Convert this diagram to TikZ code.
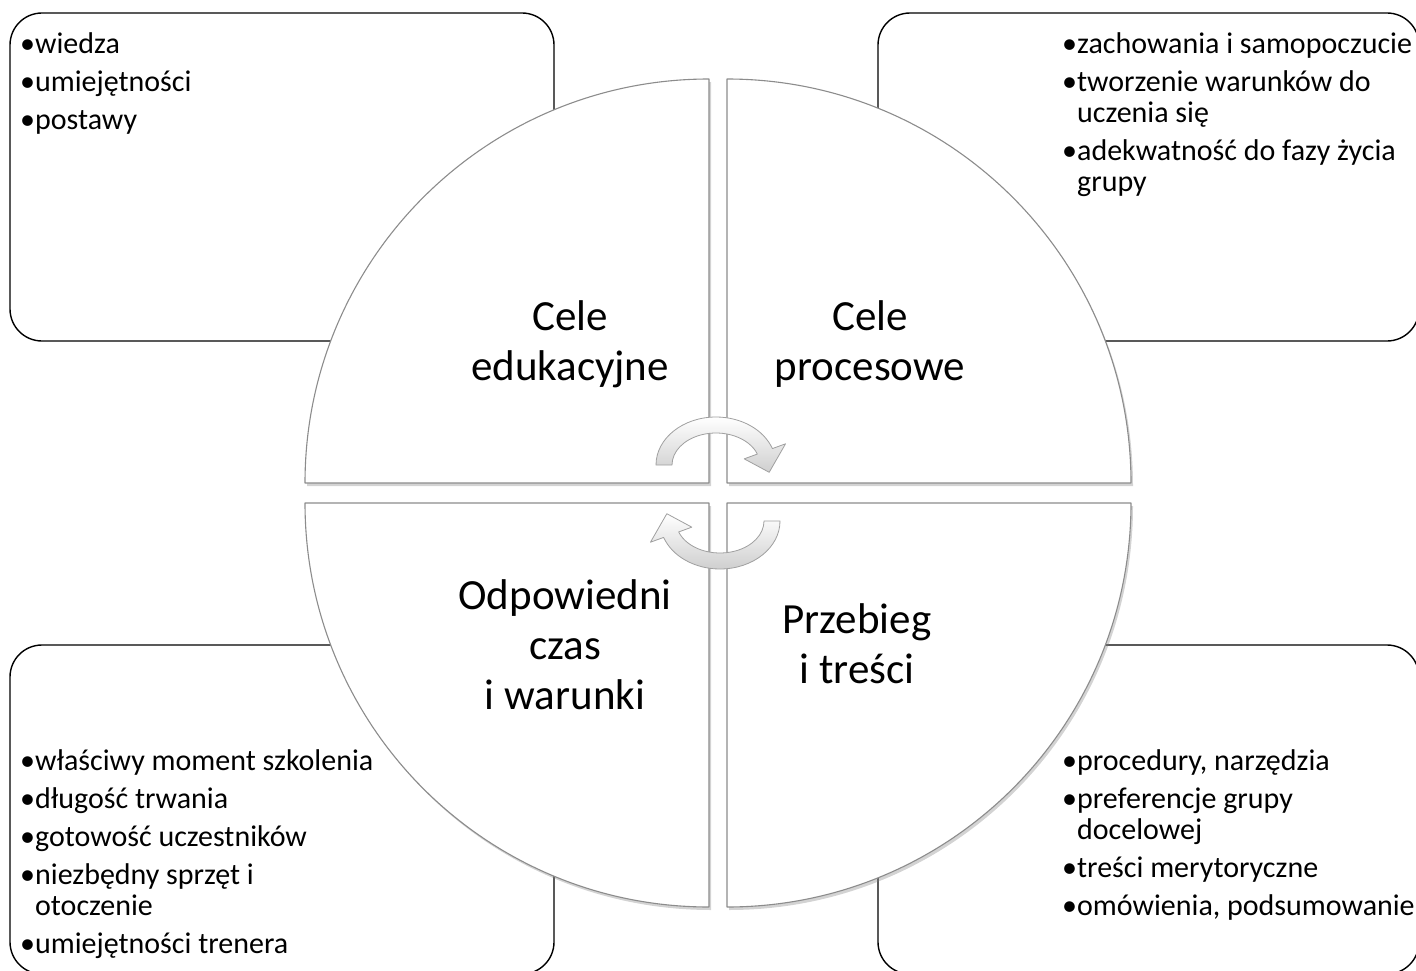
\documentclass[tikz,border=0pt]{standalone}
\usepackage{fontspec}
\setmainfont{Carlito}
\usepackage{tikz}
\usetikzlibrary{calc,positioning,shadows}
\definecolor{obrys}{HTML}{8C8C8C}
\definecolor{cien}{HTML}{808080}
\definecolor{strzalka}{HTML}{CFCFCF}
\definecolor{strzalkaobrys}{HTML}{A0A0A0}

\tikzset{
  ramka/.style={draw=black,line width=1.4pt,rounded corners=32pt},
  cwiartka/.style={fill=white,draw=obrys,line width=1.1pt,
    drop shadow={shadow xshift=2pt,shadow yshift=-3pt,opacity=.35,fill=cien}},
  lista/.style={anchor=north west,inner sep=0pt,text width=400pt,align=flush left,
    font=\fontsize{30}{31}\selectfont\setlength{\parskip}{7pt}},
  etykieta/.style={align=center,inner sep=0pt,font=\fontsize{43}{50}\selectfont},
  obrot/.style={top color=white,bottom color=strzalka,draw=strzalkaobrys,line width=0.8pt}
}
\newcommand{\pkt}[1]{\par\setbox0\hbox{\textbullet}\hangindent=\wd0\hangafter=1
  \noindent\strut\textbullet#1\par}

\begin{document}
\begin{tikzpicture}[x=1pt,y=-1pt,line join=round]
  \useasboundingbox (0,0) rectangle (1416,971);
  % ramki z listami
  \draw[ramka] (10,13) rectangle (554,341);
  \draw[ramka] (878,13) rectangle (1419,341);
  \draw[ramka] (10,645) rectangle (554,974);
  \draw[ramka] (878,645) rectangle (1419,974);
  \node[lista] (wiedza) at (20,15.5) {\pkt{wiedza}\pkt{umiejętności}\pkt{postawy}};
  \node[lista] (proces) at (1062,15.5) {\pkt{zachowania i samopoczucie}%
    \pkt{tworzenie warunków do\newline uczenia się}%
    \pkt{adekwatność do fazy życia\newline grupy}};
  \node[lista] (warunki) at (20,732) {\pkt{właściwy moment szkolenia}%
    \pkt{długość trwania}\pkt{gotowość uczestników}%
    \pkt{niezbędny sprzęt i\newline otoczenie}\pkt{umiejętności trenera}};
  \node[lista] (tresci) at (1062,732) {\pkt{procedury, narzędzia}%
    \pkt{preferencje grupy\newline docelowej}\pkt{treści merytoryczne}%
    \pkt{omówienia, podsumowanie}};
  % cwiartki kola
  \path[cwiartka] (709,483) -- (305,483) arc[start angle=180,end angle=270,radius=404] -- cycle;
  \path[cwiartka] (727,483) -- (727,79) arc[start angle=270,end angle=360,radius=404] -- cycle;
  \path[cwiartka] (727,503) -- (1131,503) arc[start angle=0,end angle=90,radius=404] -- cycle;
  \path[cwiartka] (709,503) -- (709,907) arc[start angle=90,end angle=180,radius=404] -- cycle;
  \node[etykieta] (edu) at (570,344) {Cele\\edukacyjne};
  \node[etykieta] (proc) at (870,344) {Cele\\procesowe};
  \node[etykieta] (czas) at (565,645) {Odpowiedni\\czas\\i warunki};
  \node[etykieta] (przebieg) at (857,644) {Przebieg\\i treści};
  % strzalki obiegu
  \coordinate (G) at (716,465);
  \coordinate (D) at (720,521);
  \path[obrot] ($(G)+(-60,0)$) arc[start angle=180,end angle=340,x radius=60,y radius=48]
    -- ($(G)+({74*cos(340)},{62*sin(340)})$) -- ($(G)+({54*cos(10)},{42*sin(10)})$)
    -- ($(G)+({30*cos(340)},{18*sin(340)})$) -- ($(G)+({44*cos(340)},{32*sin(340)})$)
    arc[start angle=340,end angle=180,x radius=44,y radius=32] -- cycle;
  \path[obrot] ($(D)+(60,0)$) arc[start angle=0,end angle=160,x radius=60,y radius=48]
    -- ($(D)+({74*cos(160)},{62*sin(160)})$) -- ($(D)+({54*cos(190)},{42*sin(190)})$)
    -- ($(D)+({30*cos(160)},{18*sin(160)})$) -- ($(D)+({44*cos(160)},{32*sin(160)})$)
    arc[start angle=160,end angle=0,x radius=44,y radius=32] -- cycle;
\end{tikzpicture}
\end{document}
